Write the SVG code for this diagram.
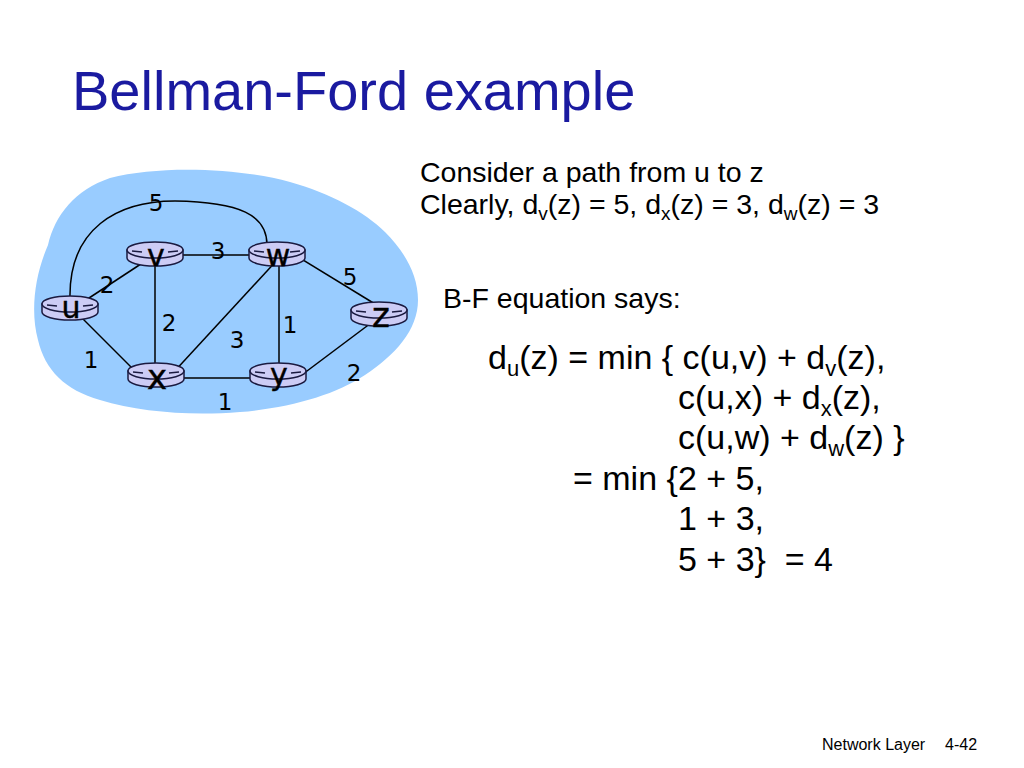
<svg xmlns="http://www.w3.org/2000/svg" width="1024" height="768" viewBox="0 0 1024 768">
<style>
.title{font-family:"Liberation Sans",Arial,sans-serif;font-size:56px;fill:#1a1aa0}
.txt{font-family:"Liberation Sans",Arial,sans-serif;font-size:28.5px;fill:#000}
.eq{font-family:"Liberation Sans",Arial,sans-serif;font-size:34px;fill:#000}
.foot{font-family:"Liberation Sans",Arial,sans-serif;font-size:16px;fill:#000}
.w{font-family:"DejaVu Sans",Verdana,sans-serif;font-size:23px;fill:#000;text-anchor:middle}
.lbl{font-family:"DejaVu Sans",Verdana,sans-serif;font-size:30px;fill:#000;text-anchor:middle;stroke:#000;stroke-width:0.4}
.edge{stroke:#000;stroke-width:1.5;fill:none}
.rbody{fill:#ccccf5;stroke:#1a1a40;stroke-width:1.5}
.dash{stroke:#1a1a40;stroke-width:1.5}
</style>
<defs>
<g id="router">
<path class="rbody" d="M-28,0 L-28,8 A28,8 0 0 0 28,8 L28,0 Z"/>
<ellipse class="rbody" cx="0" cy="0" rx="28" ry="8"/>
<line class="dash" x1="-23" y1="1" x2="-13" y2="2"/>
<line class="dash" x1="13" y1="2" x2="23" y2="1"/>
</g>
</defs>
<rect width="1024" height="768" fill="#fff"/>
<text class="title" x="72" y="110">Bellman-Ford example</text>
<path id="cloud" d="M48,245 C55,215 75,190 110,178 C160,165 240,168 290,182 C330,193 365,212 385,232 C405,252 418,275 418,300 C418,330 395,355 365,375 C335,395 290,408 240,412 C190,416 140,412 100,400 C65,390 45,370 38,340 C30,310 35,275 48,245 Z" fill="#99ccff"/>
<g id="connectors">
<path class="edge" d="M70,300 C68,228 118,201 175,201 C240,202 267,215 267,245"/>
<line class="edge" x1="86" y1="300" x2="150" y2="258"/>
<line class="edge" x1="76" y1="312" x2="136" y2="372"/>
<line class="edge" x1="155" y1="255" x2="155" y2="372"/>
<line class="edge" x1="160" y1="255" x2="270" y2="255"/>
<line class="edge" x1="279" y1="258" x2="172" y2="374"/>
<line class="edge" x1="279" y1="255" x2="279" y2="372"/>
<line class="edge" x1="290" y1="252" x2="375" y2="304"/>
<line class="edge" x1="375" y1="320" x2="295" y2="380"/>
<line class="edge" x1="160" y1="378" x2="275" y2="378"/>
</g>
<g id="weights">
<text class="w" x="156" y="211">5</text>
<text class="w" x="218" y="259">3</text>
<text class="w" x="107" y="293">2</text>
<text class="w" x="350" y="285">5</text>
<text class="w" x="169" y="331">2</text>
<text class="w" x="237" y="348">3</text>
<text class="w" x="290" y="333">1</text>
<text class="w" x="91" y="368">1</text>
<text class="w" x="354" y="381">2</text>
<text class="w" x="225" y="410">1</text>
</g>
<g id="node-u"><use href="#router" x="70" y="304"/><text class="lbl" x="71" y="318">u</text></g>
<g id="node-v"><use href="#router" x="155" y="250"/><text class="lbl" x="156" y="266">v</text></g>
<g id="node-w"><use href="#router" x="277" y="250"/><text class="lbl" x="278" y="266">w</text></g>
<g id="node-z"><use href="#router" x="379" y="310"/><text class="lbl" x="381" y="327" style="font-size:34px">z</text></g>
<g id="node-x"><use href="#router" x="156" y="371"/><text class="lbl" x="157" y="389" style="font-size:34px">x</text></g>
<g id="node-y"><use href="#router" x="278" y="371"/><text class="lbl" x="279" y="385">y</text></g>
<text class="txt" x="420" y="182">Consider a path from u to z</text>
<text class="txt" x="420" y="214">Clearly, d<tspan font-size="19" dy="6">v</tspan><tspan dy="-6">(z) = 5, d</tspan><tspan font-size="19" dy="6">x</tspan><tspan dy="-6">(z) = 3, d</tspan><tspan font-size="19" dy="6">w</tspan><tspan dy="-6">(z) = 3</tspan></text>
<text class="txt" x="443" y="308">B-F equation says:</text>
<text class="eq" x="488" y="369">d<tspan font-size="22" dy="7">u</tspan><tspan dy="-7">(z) = min { c(u,v) + d</tspan><tspan font-size="22" dy="7">v</tspan><tspan dy="-7">(z),</tspan></text>
<text class="eq" x="678" y="409">c(u,x) + d<tspan font-size="22" dy="7">x</tspan><tspan dy="-7">(z),</tspan></text>
<text class="eq" x="678" y="449">c(u,w) + d<tspan font-size="22" dy="7">w</tspan><tspan dy="-7">(z) }</tspan></text>
<text class="eq" x="573" y="490">= min {2 + 5,</text>
<text class="eq" x="678" y="530">1 + 3,</text>
<text class="eq" x="678" y="571" xml:space="preserve">5 + 3}  = 4</text>
<text class="foot" x="822" y="750">Network Layer</text>
<text class="foot" x="945" y="750">4-42</text>
</svg>
